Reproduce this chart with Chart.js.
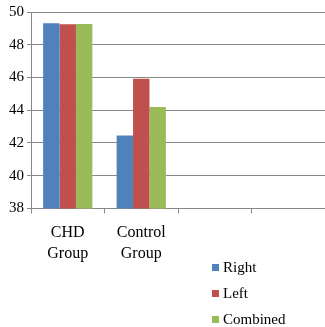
<!DOCTYPE html>
<html>
<head>
<meta charset="utf-8">
<script src="https://cdn.jsdelivr.net/npm/chart.js@4"></script>
<style>
  html, body { margin: 0; padding: 0; background: #fff; }
  #wrap { position: relative; width: 325px; height: 327px; }
  #legend { position: absolute; left: 212px; top: 257px; font-family: "Liberation Serif", serif; font-size: 15px; color: #000; }
  #legend div { height: 26px; line-height: 20px; white-space: nowrap; }
  #legend span.sw { display: inline-block; width: 7px; height: 7px; margin-right: 4px; vertical-align: 1px; }
</style>
</head>
<body>
<div id="wrap">
  <canvas id="chart" width="325" height="327"></canvas>
  <div id="legend"></div>
</div>
<script>
// ==========================================
// Data
// ==========================================
const CATEGORIES = [["CHD", "Group"], ["Control", "Group"], "", ""];
const SERIES_NAMES = ["Right", "Left", "Combined"];
const SERIES_COLORS = ["#4F81BD", "#C0504D", "#9BBB59"];
const RIGHT = [49.32, 42.45, null, null];
const LEFT = [49.25, 45.92, null, null];
const COMBINED = [49.27, 44.2, null, null];
const Y_MIN = 38, Y_MAX = 50, Y_STEP = 2;

const values = [RIGHT, LEFT, COMBINED];

const ctx = document.getElementById('chart').getContext('2d');
new Chart(ctx, {
    type: 'bar',
    data: {
        labels: CATEGORIES,
        datasets: SERIES_NAMES.map((name, i) => ({
            label: name,
            data: values[i],
            backgroundColor: SERIES_COLORS[i],
            borderWidth: 0,
            categoryPercentage: 0.67,
            barPercentage: 1.0
        }))
    },
    options: {
        responsive: false,
        animation: false,
        layout: { padding: { top: 4, right: 0, bottom: 54, left: 6 } },
        plugins: { legend: { display: false }, tooltip: { enabled: false } },
        scales: {
            x: {
                grid: { display: true, drawOnChartArea: false, drawTicks: true, tickLength: 5, color: '#888', offset: true },
                border: { display: true, color: '#888' },
                ticks: { color: '#000', font: { family: 'Liberation Serif', size: 16, lineHeight: 1.3 }, padding: 9, maxRotation: 0 }
            },
            y: {
                min: Y_MIN,
                max: Y_MAX,
                grid: { color: '#888', tickLength: 4 },
                border: { display: true, color: '#888' },
                ticks: { stepSize: Y_STEP, color: '#000', font: { family: 'Liberation Serif', size: 15 }, padding: 3 }
            }
        }
    }
});

// legend below the plot, stacked vertically
const legend = document.getElementById('legend');
SERIES_NAMES.forEach((name, i) => {
    const row = document.createElement('div');
    row.innerHTML = `<span class="sw" style="background:${SERIES_COLORS[i]}"></span>${name}`;
    legend.appendChild(row);
});
</script>
</body>
</html>
